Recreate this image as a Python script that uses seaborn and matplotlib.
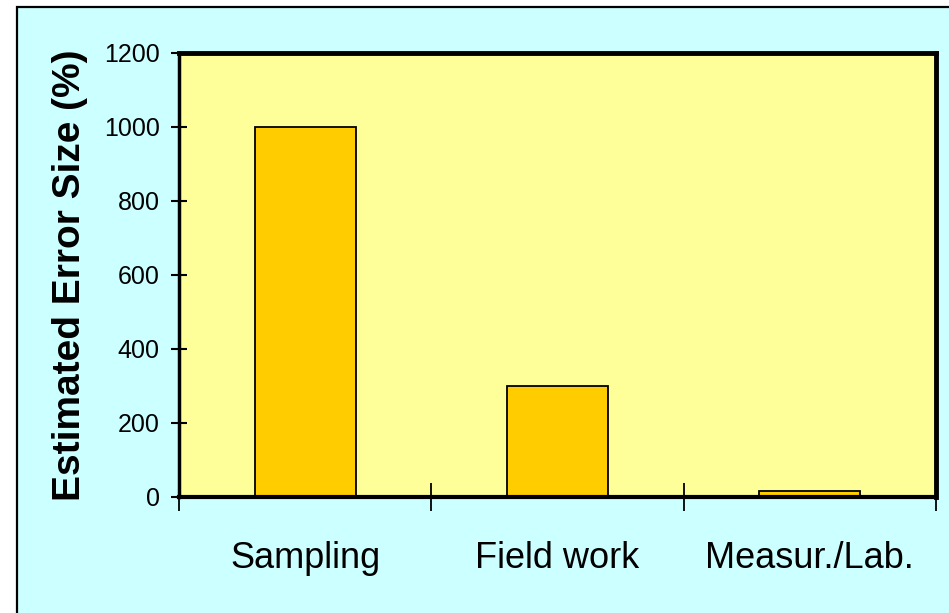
import matplotlib
matplotlib.use("Agg")
import matplotlib.pyplot as plt
from matplotlib.patches import Rectangle
import seaborn as sns
import pandas as pd

categories = ["Sampling", "Field work", "Measur./Lab."]
error_size = [1000, 300, 15]
y_ticks = [0, 200, 400, 600, 800, 1000, 1200]

sns.set_theme(style="white")
plt.rcParams["font.family"] = ["Liberation Sans", "DejaVu Sans"]

W, H = 949, 613
fig = plt.figure(figsize=(W / 100, H / 100), dpi=100, facecolor="white")

# Cyan panel with a thin black frame, bleeding off the right and bottom edges
fig.patches.append(Rectangle((17 / W, -0.05), 1.2, 1 - 7 / H + 0.05,
                             transform=fig.transFigure, facecolor="#CCFFFF",
                             edgecolor="black", linewidth=1.6, zorder=-10))

ax = fig.add_axes([179 / W, (H - 497) / H, (936 - 179) / W, (497 - 53) / H])
ax.set_zorder(5)
ax.set_facecolor("#FFFF99")

df = pd.DataFrame({"category": categories, "error": error_size})
sns.barplot(data=df, x="category", y="error", color="#FFCC00", saturation=1,
            edgecolor="black", linewidth=1.3, width=0.4, ax=ax)

ax.set_xlim(-0.5, len(categories) - 0.5)
ax.set_ylim(0, 1200)
ax.set_yticks(y_ticks)
ax.set_yticklabels([str(t) for t in y_ticks])

for side, lw in [("left", 2.5), ("bottom", 3.0), ("top", 3.5), ("right", 3.5)]:
    ax.spines[side].set_visible(True)
    ax.spines[side].set_color("black")
    ax.spines[side].set_linewidth(lw)

ax.tick_params(axis="y", which="major", direction="inout", length=12, width=1.5,
               color="black", left=True, pad=8, labelsize=18, labelcolor="black")
ax.tick_params(axis="x", which="major", length=0, pad=32, labelsize=26,
               labelcolor="black")
ax.set_xticks([i - 0.5 for i in range(len(categories) + 1)], minor=True)
ax.tick_params(axis="x", which="minor", direction="inout", length=20, width=1.3,
               color="black", bottom=True)

ax.set_xlabel("")
ax.set_ylabel("Estimated Error Size (%)", fontsize=28, fontweight="bold",
              color="black", labelpad=11)

fig.savefig("out.png", dpi=100, facecolor=fig.get_facecolor())
